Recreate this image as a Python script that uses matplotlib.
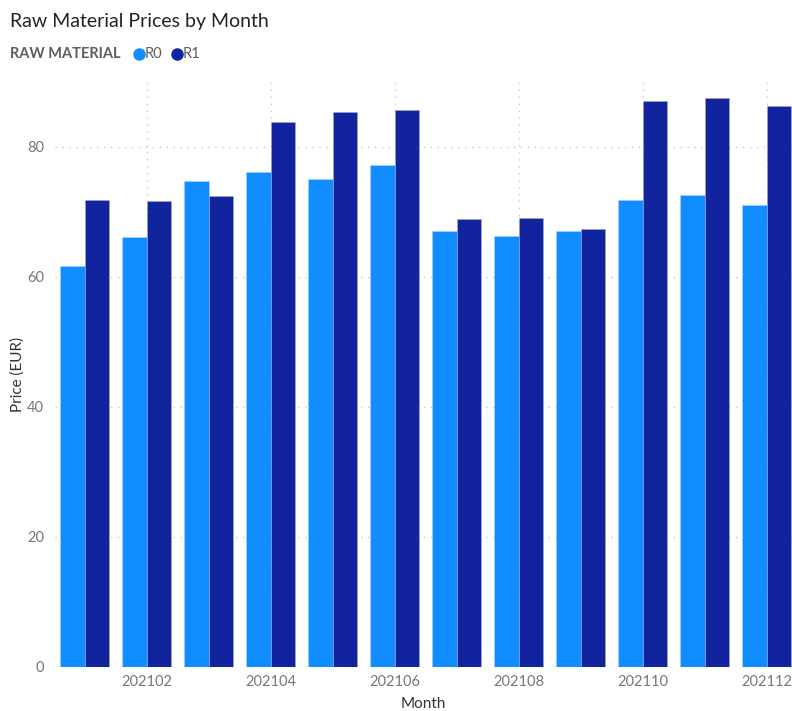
import matplotlib
matplotlib.use("Agg")
import matplotlib.pyplot as plt
import numpy as np

# Monthly raw material prices (EUR)
months = ["202101", "202102", "202103", "202104", "202105", "202106",
          "202107", "202108", "202109", "202110", "202111", "202112"]
r0 = [61.6, 66.1, 74.7, 76.1, 75.0, 77.2, 67.0, 66.2, 67.0, 71.8, 72.5, 71.1]
r1 = [71.8, 71.7, 72.4, 83.8, 85.3, 85.6, 68.9, 69.1, 67.4, 87.0, 87.5, 86.3]
series = ["R0", "R1"]
colores = ["#118DFF", "#12239E"]

plt.rcParams['font.family'] = ['Lato', 'DejaVu Sans']

fig = plt.figure(figsize=(7.92, 7.11), dpi=100)
ax = fig.add_axes([55 / 792, 44.3 / 711, (792 - 55) / 792, (666.7 - 81.7) / 711])

x = np.arange(len(months))
ancho = 0.398
ax.bar(x - ancho / 2, r0, ancho, color=colores[0], edgecolor="#A8D3FF", linewidth=0.4)
ax.bar(x + ancho / 2, r1, ancho, color=colores[1], edgecolor="#A0A8DC", linewidth=0.4)

ax.set_xlim((55 - 84.7) / 62, (792 - 84.7) / 62)
ax.set_ylim(0, 90)
ax.set_yticks([0, 20, 40, 60, 80])
ax.set_xticks(x[1::2])
ax.set_xticklabels(months[1::2])

# Dotted grid in both directions, drawn behind the bars
ax.set_axisbelow(True)
ax.grid(True, axis="both", linestyle=(0, (1, 4)), color="#C8C8C8", linewidth=1)
for s in ax.spines.values():
    s.set_visible(False)
ax.tick_params(length=0, labelsize=10.5, colors="#777777", pad=6)
ax.tick_params(axis="y", pad=8)

ax.set_xlabel("Month", fontsize=11, color="#333333", labelpad=6)
ax.set_ylabel("Price (EUR)", fontsize=11, color="#333333")
ax.yaxis.set_label_coords((25 - 55) / 737, 0.5)

# Title and legend row
fig.text(10 / 792, 1 - 21 / 711, "Raw Material Prices by Month", fontsize=14,
         color="#252423", va="center", ha="left")
fig.text(10 / 792, 1 - 54 / 711, "RAW MATERIAL", fontsize=10.5, fontweight="bold",
         color="#605E5C", va="center", ha="left")
pos = 139
for nombre, c in zip(series, colores):
    fig.lines.append(plt.Line2D([pos / 792], [1 - 54 / 711], marker="o", markersize=8,
                                color=c, transform=fig.transFigure))
    fig.text((pos + 6) / 792, 1 - 54 / 711, nombre, fontsize=10.5, color="#605E5C",
             va="center", ha="left")
    pos += 38

fig.savefig("out.png", dpi=100)
